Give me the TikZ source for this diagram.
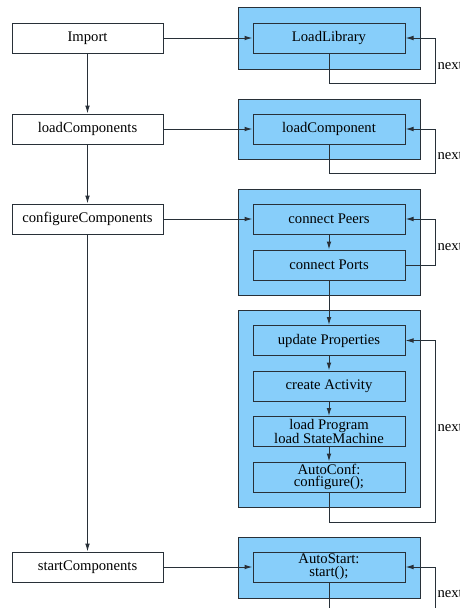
\documentclass[tikz,border=0pt]{standalone}
\usepackage{fontspec}
\setmainfont{Liberation Serif}
\usepackage{xcolor}
\usetikzlibrary{arrows.meta}
\definecolor{skyfill}{RGB}{135,206,250}
\definecolor{edgegray}{RGB}{40,48,56}

\tikzset{
  stagebox/.style={draw=edgegray, fill=white, line width=0.75pt, minimum width=113.25pt, minimum height=22.5pt, inner sep=1pt, font=\fontsize{11}{9.5}\selectfont},
  groupbox/.style={draw=edgegray, fill=skyfill, line width=0.75pt, minimum width=136.5pt, inner sep=0pt},
  stepbox/.style={draw=edgegray, fill=skyfill, line width=0.75pt, minimum width=114pt, minimum height=22.5pt, inner sep=1pt, align=center, font=\fontsize{11}{9.5}\selectfont},
  flow/.style={-{Latex[length=6pt,width=3.5pt]}, line width=0.75pt, draw=edgegray},
  loopnote/.style={right, inner sep=1.5pt, font=\fontsize{11}{11}\selectfont}
}

\begin{document}
\begin{tikzpicture}[x=0.75pt,y=0.75pt,yscale=-1,xscale=1]
%set diagram at 460 x 608, clipped like the original
\clip (0,0) rectangle (460,608);
\fill[white] (0,0) rectangle (460,608);

%Shape: Group boxes
\node[groupbox, minimum height=46.5pt] (grpLib) at (329,38) {};
\node[groupbox, minimum height=45pt] (grpComp) at (329,129) {};
\node[groupbox, minimum height=79.5pt] (grpConn) at (329,242) {};
\node[groupbox, minimum height=147.75pt] (grpConf) at (329,408.5) {};
\node[groupbox, minimum height=45.75pt] (grpStart) at (329,567.5) {};

% Stage Nodes
\node[stagebox] (imp) at (87.5,38) {Import};
\node[stagebox] (loadc) at (87.5,129) {loadComponents};
\node[stagebox] (confc) at (87.5,219) {configureComponents};
\node[stagebox] (startc) at (87.5,567) {startComponents};

% Step Nodes
\node[stepbox] (lib) at (329,38) {LoadLibrary};
\node[stepbox] (comp) at (329,129) {loadComponent};
\node[stepbox] (peers) at (329,219) {connect Peers};
\node[stepbox] (ports) at (329,265) {connect Ports};
\node[stepbox] (props) at (329,340.5) {update Properties};
\node[stepbox] (act) at (329,386) {create Activity};
\node[stepbox] (prog) at (329,431.5) {load Program\\load StateMachine};
\node[stepbox] (conf) at (329,477) {AutoConf:\\configure();};
\node[stepbox] (start) at (329,567) {AutoStart:\\start();};

%Straight Lines
\draw[flow] (imp) -- (loadc);
\draw[flow] (loadc) -- (confc);
\draw[flow] (confc) -- (startc);
\draw[flow] (imp) -- (lib);
\draw[flow] (loadc) -- (comp);
\draw[flow] (confc) -- (peers);
\draw[flow] (startc) -- (start);
\draw[flow] (peers) -- (ports);
\draw[flow] (ports) -- (props);
\draw[flow] (props) -- (act);
\draw[flow] (act) -- (prog);
\draw[flow] (prog) -- (conf);

%Loop Lines
\draw[flow] (lib.south) |- (435,83) -- (435,38) node[loopnote, pos=0.4] {next} -- (lib.east);
\draw[flow] (comp.south) |- (435,173) -- (435,129) node[loopnote, pos=0.4] {next} -- (comp.east);
\draw[flow] (ports.east) -- (435,265) -- (435,219) node[loopnote, pos=0.4] {next} -- (peers.east);
\draw[flow] (conf.south) |- (435,522) -- (435,340.5) node[loopnote, pos=0.52] {next} -- (props.east);
\draw[flow] (start.south) |- (435,620) -- (435,567) node[loopnote, pos=0.5] {next} -- (start.east);
\end{tikzpicture}
\end{document}
